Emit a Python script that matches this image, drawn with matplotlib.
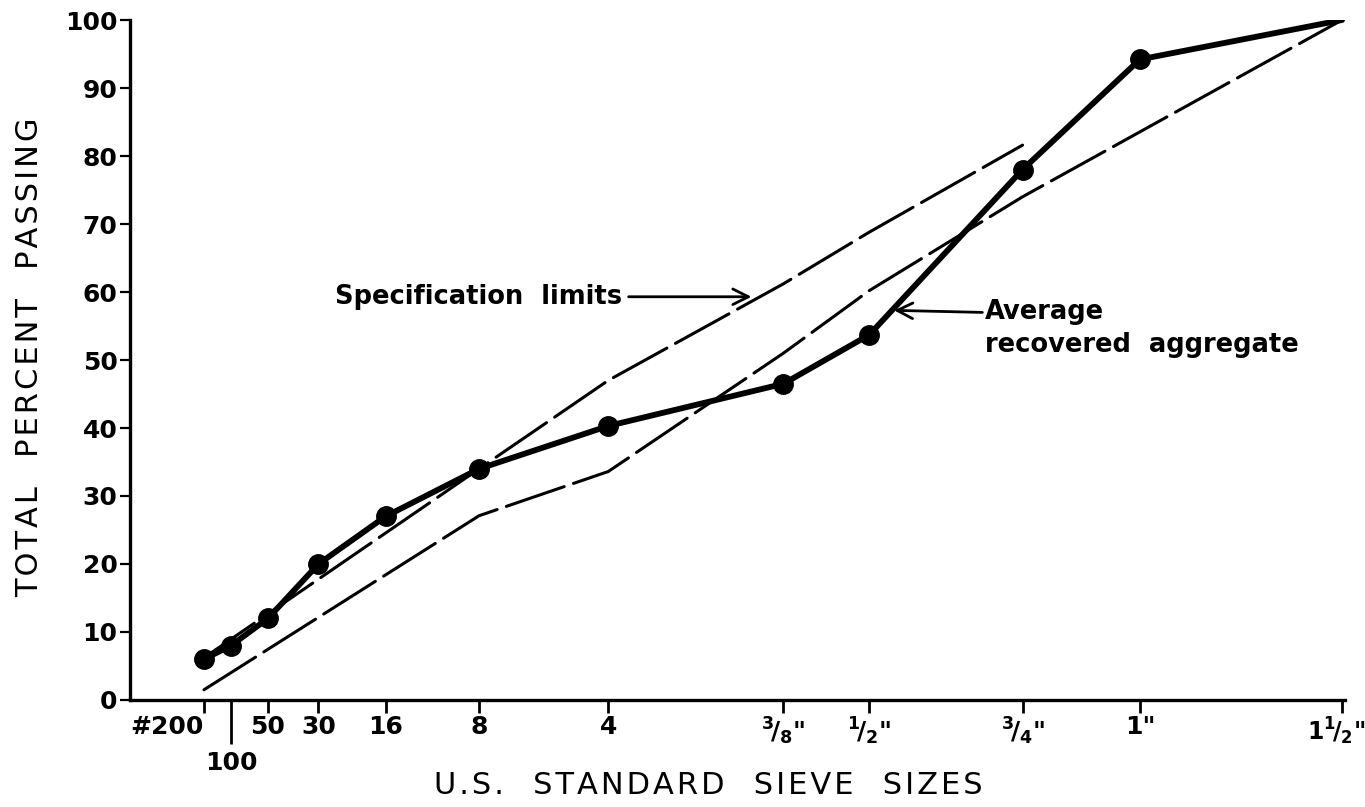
import numpy as np
import matplotlib.pyplot as plt
from matplotlib.transforms import ScaledTranslation

plt.rcParams['font.family'] = 'DejaVu Sans'
plt.rcParams['mathtext.default'] = 'bf'

# sieve openings (mm) and the labels printed under them
sieve_mm = [0.075, 0.15, 0.3, 0.6, 1.18, 2.36, 4.75, 9.5, 12.5, 19.0, 25.0, 37.5]
sieve_labels = ['#200', '100', '50', '30', '16', '8', '4',
                r'$^3\!/_8$"', r'$^1\!/_2$"', r'$^3\!/_4$"', '1"', r'1$^1\!/_2$"']

# average recovered aggregate, total percent passing
avg_passing = [6, 8, 12, 20, 27, 34, 40.3, 46.5, 53.7, 78, 94.2, 100]

# specification limits
upper_mm = [0.075, 2.36, 4.75, 9.5, 12.5, 19.0]
upper_pass = [6.2, 34, 47, 61.2, 68.8, 81.6]
lower_mm = [0.075, 2.36, 4.75, 9.5, 12.5, 19.0, 37.5]
lower_pass = [1.5, 27.1, 33.6, 51, 60.2, 74, 100]

yticks = list(range(0, 101, 10))


# 0.45 power gradation scale
def fwd(x):
    x = np.asarray(x, dtype=float)
    return np.sign(x) * np.abs(x) ** 0.45


def inv(y):
    y = np.asarray(y, dtype=float)
    return np.sign(y) * np.abs(y) ** (1 / 0.45)


def spaced(s):
    # loose letter spacing like the hand lettering
    return '\u200a'.join(s).replace('\u200a \u200a', '   ')


fig = plt.figure(figsize=(13.65, 8.07), dpi=100)
ax = fig.add_axes([0.0952, 0.1326, 0.8901, 0.8426])
ax.set_xscale('function', functions=(fwd, inv))
ax.set_xlim(0, 37.7)
ax.set_ylim(0, 100)

dash = (0, (20, 3.2))
ax.plot(upper_mm, upper_pass, color='black', lw=2.2, linestyle=dash, dash_capstyle='round')
ax.plot(lower_mm, lower_pass, color='black', lw=2.2, linestyle=dash, dash_capstyle='round')
ax.plot(sieve_mm, avg_passing, color='black', lw=4.2, marker='o', markersize=14,
        markevery=list(range(len(sieve_mm) - 1)), solid_capstyle='round', zorder=3)

# spines and ticks
for s in ['top', 'right']:
    ax.spines[s].set_visible(False)
for s in ['left', 'bottom']:
    ax.spines[s].set_linewidth(2.4)

ax.set_xticks(sieve_mm)
ax.set_xticklabels(sieve_labels, fontsize=18, fontweight='bold')
ax.xaxis.set_minor_locator(plt.NullLocator())
ax.tick_params(axis='x', direction='out', length=9, width=2, pad=2)
ax.set_yticks(yticks)
ax.set_yticklabels([str(v) for v in yticks], fontsize=18, fontweight='bold')
ax.tick_params(axis='y', direction='out', length=7, width=1.6, pad=2)

# the "100" label sits on a second row with a longer tick
ticks = ax.xaxis.get_major_ticks()
ticks[1].set_pad(28)
ticks[1].tick1line.set_markersize(32)

xlabs = ax.get_xticklabels()
xlabs[0].set_ha('right')
xlabs[-1].set_fontsize(17)
xlabs[-1].set_transform(xlabs[-1].get_transform()
                        + ScaledTranslation(-6 / 100, 0, fig.dpi_scale_trans))

# annotations
ax.annotate('Specification  limits', xy=(8.5, 59.3), xytext=(5.05, 59.3),
            ha='right', va='center', fontsize=18.5, fontweight='bold',
            arrowprops=dict(arrowstyle='->', lw=2, color='black', relpos=(1, 0.5),
                            shrinkA=3, shrinkB=0, mutation_scale=28))
ax.annotate('', xy=(13.45, 57.3), xytext=(17.15, 57.0),
            arrowprops=dict(arrowstyle='->', lw=2, color='black',
                            shrinkA=0, shrinkB=0, mutation_scale=28))
ax.text(17.25, 59.0, 'Average\nrecovered  aggregate', ha='left', va='top',
        fontsize=18.5, fontweight='bold', linespacing=1.35)

fig.text(708 / 1365, 1 - 785 / 807, spaced('U.S. STANDARD SIEVE SIZES'),
         ha='center', va='center', fontsize=22)
fig.text(30 / 1365, 1 - 357 / 807, spaced('TOTAL PERCENT PASSING'),
         ha='center', va='center', rotation=90, fontsize=22)

plt.savefig('out.png', dpi=100)
